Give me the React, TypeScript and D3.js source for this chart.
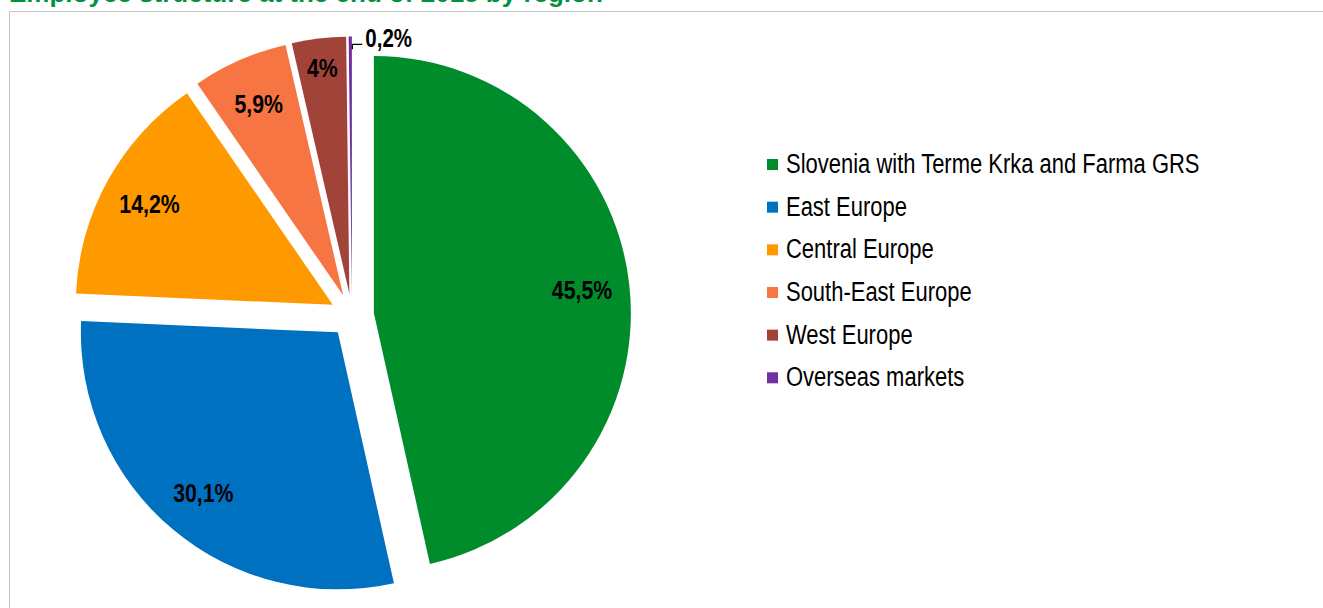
import React from "react";
import * as d3 from "d3";

const regions = [
  "Slovenia with Terme Krka and Farma GRS",
  "East Europe",
  "Central Europe",
  "South-East Europe",
  "West Europe",
  "Overseas markets",
];
// slice sizes as drawn (angles)
const shares = [46.5, 29.2, 14.7, 6.0, 3.4, 0.2];
// data labels as printed
const labelTexts = ["45,5%", "30,1%", "14,2%", "5,9%", "4%", "0,2%"];
const colors = ["#008C2B", "#0070C0", "#FF9900", "#F77443", "#A2433A", "#7030A0"];
const title = "Employee structure at the end of 2015 by region";

const W = 1323;
const H = 608;
const cx = 352;
const cy = 315.5;
const R = 257;
const EXPLODE = 22;
const FONT = "'Liberation Sans', Arial, sans-serif";
const NARROW_SCALE = 0.82;

type Row = { region: string; share: number; label: string; color: string };
const rows: Row[] = regions.map((r, i) => ({ region: r, share: shares[i], label: labelTexts[i], color: colors[i] }));

export default function App() {
  const pie = d3.pie<Row>().sort(null).value((d) => d.share).startAngle(0).endAngle(2 * Math.PI);
  const arcs = pie(rows);
  const arc = d3.arc<d3.PieArcDatum<Row>>().innerRadius(0).outerRadius(R);

  const legendY = d3.scaleLinear().domain([0, regions.length - 1]).range([164.5, 377.8]);

  return (
    <svg width={W} height={H} style={{ position: "absolute", left: 0, top: 0, background: "#fff" }}>
      <rect x={0} y={0} width={W} height={H} fill="#fff" />
      <text x={9} y={1.5} fill="#00923F" fontFamily={FONT} fontWeight="bold" fontSize={26}>
        {title}
      </text>
      <path d={`M9.5,${H + 5} V11.5 H${W + 5}`} fill="none" stroke="#C4C4C4" strokeWidth={1} />
      <g transform={`translate(${cx},${cy})`}>
        {arcs.map((a, i) => {
          const mid = (a.startAngle + a.endAngle) / 2;
          const ox = EXPLODE * Math.sin(mid);
          const oy = -EXPLODE * Math.cos(mid);
          return (
            <g key={i} transform={`translate(${ox},${oy})`}>
              <path d={arc(a) || ""} fill={a.data.color} />
            </g>
          );
        })}
        {arcs.map((a, i) => {
          const mid = (a.startAngle + a.endAngle) / 2;
          const ox = EXPLODE * Math.sin(mid);
          const oy = -EXPLODE * Math.cos(mid);
          if (a.data.share < 1) {
            // outside label with leader line
            const lr = R * 0.95;
            const px = ox + lr * Math.sin(mid) + 2;
            const py = oy - lr * Math.cos(mid);
            return (
              <g key={"l" + i}>
                <path d={`M${px},${py} V${py - 5} H${px + 10}`} fill="none" stroke="#000" strokeWidth={1.3} />
                <text
                  transform={`translate(${px + 13},${py - 2}) scale(${NARROW_SCALE},1)`}
                  fontFamily={FONT}
                  fontWeight="bold"
                  fontSize={25}
                  fill="#000"
                >
                  {a.data.label}
                </text>
              </g>
            );
          }
          const lr = a.data.share < 5 ? R * 0.885 : R * 0.815;
          const x = ox + lr * Math.sin(mid);
          const y = oy - lr * Math.cos(mid);
          return (
            <text
              key={"l" + i}
              transform={`translate(${x},${y}) scale(${NARROW_SCALE},1)`}
              textAnchor="middle"
              dominantBaseline="central"
              fontFamily={FONT}
              fontWeight="bold"
              fontSize={26}
              fill="#000"
            >
              {a.data.label}
            </text>
          );
        })}
      </g>
      <g>
        {rows.map((r, i) => (
          <g key={i} transform={`translate(767,${legendY(i)})`}>
            <rect x={0} y={-5.5} width={11} height={11} fill={r.color} />
            <text transform={`translate(19,8.5) scale(${NARROW_SCALE},1)`} fontFamily={FONT} fontSize={26.8} fill="#000">
              {r.region}
            </text>
          </g>
        ))}
      </g>
    </svg>
  );
}
